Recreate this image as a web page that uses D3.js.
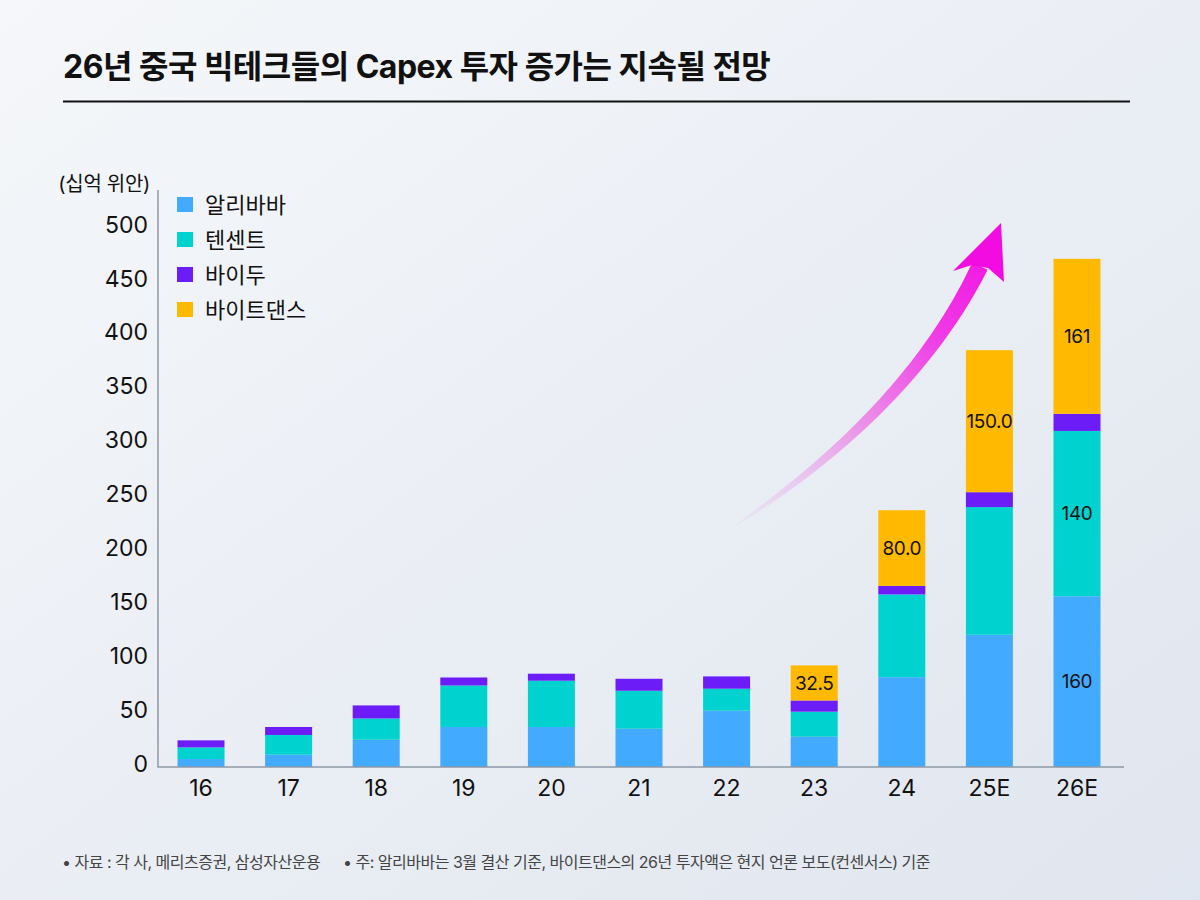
<!DOCTYPE html>
<html>
<head>
<meta charset="utf-8">
<script src="https://cdn.jsdelivr.net/npm/d3@7"></script>
<style>
  html, body { margin: 0; padding: 0; }
  body { width: 1200px; height: 900px; overflow: hidden; }
  svg { display: block; font-family: "Inter", "Noto Sans CJK KR", sans-serif; }
</style>
</head>
<body>
<script>
// Data (십억 위안)
const years = ["16", "17", "18", "19", "20", "21", "22", "23", "24", "25E", "26E"];
const seriesNames = ["알리바바", "텐센트", "바이두", "바이트댄스"];
const seriesColors = ["#42abff", "#00d3cf", "#6b1cf7", "#ffba00"];
const alibaba   = [7.4, 11.4, 25.3, 37.1, 37.1, 35.5, 52.2, 28.1, 83.3, 122.6, 158.3];
const tencent   = [10.8, 18.3, 19.7, 38.5, 42.9, 35.2, 20.4, 23.2, 76.7, 118.4, 153.3];
const baidu     = [6.5, 7.4, 12.1, 7.4, 6.5, 11.1, 11.4, 10.4, 7.9, 13.8, 15.9];
const bytedance = [0, 0, 0, 0, 0, 0, 0, 32.5, 70.2, 131.7, 143.7];
// labels printed on segments, as in the source
const labelAlibaba   = ["", "", "", "", "", "", "", "", "", "", "160"];
const labelTencent   = ["", "", "", "", "", "", "", "", "", "", "140"];
const labelBaidu     = ["", "", "", "", "", "", "", "", "", "", ""];
const labelBytedance = ["", "", "", "", "", "", "", "32.5", "80.0", "150.0", "161"];
const yTicks = [0, 50, 100, 150, 200, 250, 300, 350, 400, 450, 500];

const W = 1200, H = 900;

const svg = d3.select("body").append("svg")
    .attr("width", W)
    .attr("height", H);

const defs = svg.append("defs");

// background
const bg = defs.append("linearGradient")
    .attr("id", "bg")
    .attr("x1", "0").attr("y1", "0")
    .attr("x2", "1").attr("y2", "1");
bg.append("stop").attr("offset", "0").attr("stop-color", "#f5f7fa");
bg.append("stop").attr("offset", "1").attr("stop-color", "#e0e6ef");
svg.append("rect").attr("width", W).attr("height", H).attr("fill", "url(#bg)");

// title
svg.append("text")
    .attr("x", 63)
    .attr("y", 78)
    .style("font-size", "32px")
    .style("font-weight", "bold")
    .style("letter-spacing", "-0.5px")
    .attr("fill", "#111")
    .text("26년 중국 빅테크들의 Capex 투자 증가는 지속될 전망");

svg.append("line")
    .attr("x1", 63).attr("x2", 1130)
    .attr("y1", 101.5).attr("y2", 101.5)
    .attr("stroke", "#111")
    .attr("stroke-width", 2);

// scales
const x = d3.scaleBand()
    .domain(years)
    .range([158, 1120])
    .paddingInner(0.4635)
    .paddingOuter(0.2226);

const y = d3.scaleLinear()
    .domain([0, 535])
    .range([767, 190]);

// stack
const rows = years.map((yr, i) => ({
    year: yr,
    "알리바바": alibaba[i],
    "텐센트": tencent[i],
    "바이두": baidu[i],
    "바이트댄스": bytedance[i]
}));
const labels = [labelAlibaba, labelTencent, labelBaidu, labelBytedance];
const stacked = d3.stack().keys(seriesNames)(rows);

const g = svg.append("g");

stacked.forEach((layer, si) => {
    g.selectAll(null)
        .data(layer.filter(d => d[1] - d[0] > 0))
        .join("rect")
        .attr("x", d => x(d.data.year))
        .attr("width", x.bandwidth())
        .attr("y", d => y(d[1]))
        .attr("height", d => y(d[0]) - y(d[1]))
        .attr("fill", seriesColors[si]);
});

// segment labels
stacked.forEach((layer, si) => {
    layer.forEach((d, i) => {
        const txt = labels[si][i];
        if (!txt) return;
        g.append("text")
            .attr("x", x(d.data.year) + x.bandwidth() / 2)
            .attr("y", y((d[0] + d[1]) / 2))
            .attr("dy", "0.36em")
            .attr("text-anchor", "middle")
            .style("font-size", "19px")
            .style("letter-spacing", "-0.4px")
            .attr("fill", "#111")
            .text(txt);
    });
});

// axes
svg.append("line")
    .attr("x1", 158).attr("x2", 158)
    .attr("y1", y(535)).attr("y2", y(0))
    .attr("stroke", "#8f99a5")
    .attr("stroke-width", 1.5);

const xAxis = svg.append("g")
    .attr("transform", "translate(0," + y(0) + ")")
    .call(d3.axisBottom(x).tickSize(0).tickPadding(12));
xAxis.select(".domain").attr("stroke", "#8f99a5").attr("stroke-width", 1.5)
    .attr("d", "M157.25,0H1124");
xAxis.selectAll("text")
    .style("font-size", "23px")
    .style("font-family", "Inter, 'Noto Sans CJK KR', sans-serif")
    .attr("fill", "#111")
    .attr("dy", "0.75em");

const yAxis = svg.append("g")
    .attr("transform", "translate(158,0)")
    .call(d3.axisLeft(y).tickValues(yTicks).tickSize(0).tickPadding(10));
yAxis.select(".domain").remove();
yAxis.selectAll("text")
    .style("font-size", "23px")
    .style("font-family", "Inter, 'Noto Sans CJK KR', sans-serif")
    .attr("fill", "#111")
    .attr("dy", "0.32em")
    .attr("y", -3);

// unit label
svg.append("text")
    .attr("x", 150)
    .attr("y", 191)
    .attr("text-anchor", "end")
    .style("font-size", "20px")
    .style("letter-spacing", "-0.3px")
    .attr("fill", "#111")
    .text("(십억 위안)");

// legend
const legend = svg.append("g").attr("transform", "translate(177,205)");
seriesNames.forEach((name, i) => {
    const row = legend.append("g").attr("transform", "translate(0," + i * 35 + ")");
    row.append("rect")
        .attr("x", 0).attr("y", -8)
        .attr("width", 16).attr("height", 15)
        .attr("fill", seriesColors[i]);
    row.append("text")
        .attr("x", 28)
        .attr("y", 0)
        .attr("dy", "0.35em")
        .style("font-size", "22px")
        .attr("fill", "#111")
        .text(name);
});

// growth arrow
const p0 = [733, 527], p1 = [910, 410], p2 = [980, 266];
const qb = t => [
    (1 - t) * (1 - t) * p0[0] + 2 * t * (1 - t) * p1[0] + t * t * p2[0],
    (1 - t) * (1 - t) * p0[1] + 2 * t * (1 - t) * p1[1] + t * t * p2[1]
];
const qd = t => [
    2 * (1 - t) * (p1[0] - p0[0]) + 2 * t * (p2[0] - p1[0]),
    2 * (1 - t) * (p1[1] - p0[1]) + 2 * t * (p2[1] - p1[1])
];
const left = [], right = [];
for (let k = 0; k <= 60; k++) {
    const t = k / 60;
    const p = qb(t), d = qd(t);
    const len = Math.hypot(d[0], d[1]);
    const nx = -d[1] / len, ny = d[0] / len;
    const w = 8.5 * Math.pow(t, 0.6);
    left.push([p[0] + nx * w, p[1] + ny * w]);
    right.push([p[0] - nx * w, p[1] - ny * w]);
}
const arrowGrad = defs.append("linearGradient")
    .attr("id", "arrowGrad")
    .attr("gradientUnits", "userSpaceOnUse")
    .attr("x1", p0[0]).attr("y1", p0[1])
    .attr("x2", 1001).attr("y2", 223);
arrowGrad.append("stop").attr("offset", "0").attr("stop-color", "#e6d6f2").attr("stop-opacity", 0.3);
arrowGrad.append("stop").attr("offset", "0.35").attr("stop-color", "#eba0ea");
arrowGrad.append("stop").attr("offset", "0.7").attr("stop-color", "#f038e6");
arrowGrad.append("stop").attr("offset", "1").attr("stop-color", "#f20ce2");

const shaft = left.concat(right.reverse());
svg.append("path")
    .attr("d", d3.line()(shaft) + "Z")
    .attr("fill", "url(#arrowGrad)");

svg.append("path")
    .attr("d", d3.line()([[1001, 223], [1004, 282], [988, 268], [972, 265], [953, 271]]) + "Z")
    .attr("fill", "#f20ce2");

// footnote
svg.append("text")
    .attr("x", 62)
    .attr("y", 868)
    .style("font-size", "16px")
    .style("letter-spacing", "-0.5px")
    .attr("fill", "#444")
    .text("• 자료 : 각 사, 메리츠증권, 삼성자산운용");
svg.append("text")
    .attr("x", 343)
    .attr("y", 868)
    .style("font-size", "16px")
    .style("letter-spacing", "-0.5px")
    .attr("fill", "#444")
    .text("• 주: 알리바바는 3월 결산 기준, 바이트댄스의 26년 투자액은 현지 언론 보도(컨센서스) 기준");
</script>
</body>
</html>
